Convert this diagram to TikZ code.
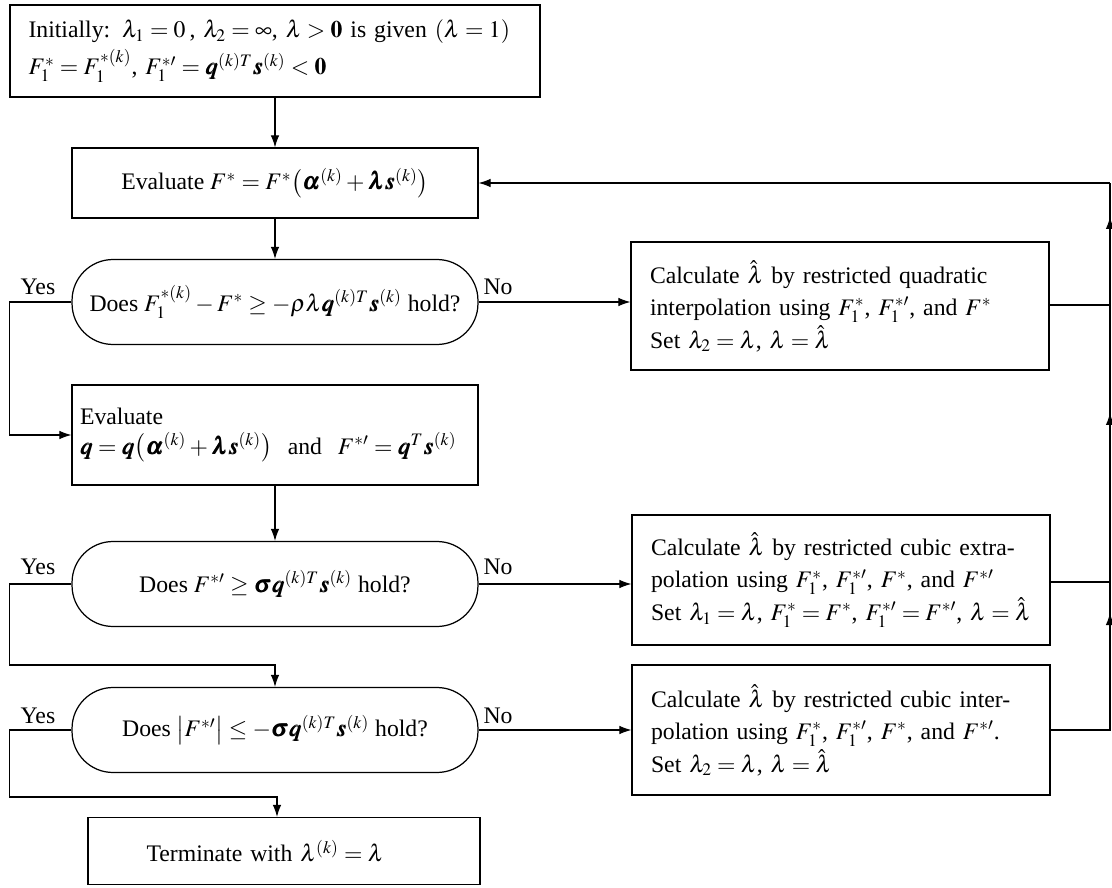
\documentclass[tikz,border=0pt]{standalone}
\usepackage{amsmath}
\usepackage{mathptmx}
\usepackage{fontspec}
\setmainfont{Liberation Serif}
\usepackage{bm}
\usetikzlibrary{arrows.meta,calc}

\begin{document}
\begin{tikzpicture}[x=0.02cm,y=-0.02cm,
  every node/.style={font=\fontsize{13.5}{17}\selectfont},
  box/.style={draw,line width=0.7pt},
  decide/.style={draw,line width=0.7pt,rounded corners=0.82cm,minimum width=8.12cm,minimum height=1.7cm,inner xsep=2pt},
  calcbox/.style={box,minimum width=8.36cm,minimum height=2.6cm,text width=7.6cm,inner xsep=0.38cm,align=left,font=\fontsize{13.5}{18.5}\selectfont},
  arr/.style={line width=0.6pt,-{Latex[length=2.4mm,width=1.7mm]}},
  lab/.style={inner sep=1pt}]
\useasboundingbox (0,0) rectangle (1112,888);
% left column: the line search steps
\node[box,minimum width=10.6cm,minimum height=1.84cm,text width=9.86cm,inner xsep=0.37cm,align=left] (init) at (275,51) {Initially: $\lambda_1=0$\,, $\lambda_2=\infty$,\ $\lambda>\mathbf{0}$ is given $(\lambda=1)$\\[2pt] $F_1^{*}=F_1^{*(k)}$, $F_1^{*\prime}=\bm q^{(k)T}\bm s^{(k)}<\mathbf{0}$};
\node[box,minimum width=8.12cm,minimum height=1.4cm] (eval1) at (275,183) {Evaluate $F^{*}=F^{*}\bigl(\bm\alpha^{(k)}+\bm\lambda\bm s^{(k)}\bigr)$};
\node[decide] (dec1) at (275,302) {Does $F_1^{*(k)}-F^{*}\geq-\rho\lambda\bm q^{(k)T}\bm s^{(k)}$ hold?};
\node[box,minimum width=8.12cm,minimum height=2cm,text width=7.8cm,inner xsep=0.16cm,align=left] (eval2) at (275,435) {Evaluate\\ $\bm q=\bm q\bigl(\bm\alpha^{(k)}+\bm\lambda\bm s^{(k)}\bigr)$\ \ and\ \ $F^{*\prime}=\bm q^{T}\bm s^{(k)}$};
\node[decide] (dec2) at (275,584) {\raisebox{-9pt}{Does $F^{*\prime}\geq\bm\sigma\bm q^{(k)T}\bm s^{(k)}$ hold?}};
\node[decide] (dec3) at (275,730) {Does $\bigl|F^{*\prime}\bigr|\leq-\bm\sigma\bm q^{(k)T}\bm s^{(k)}$ hold?};
\node[box,minimum width=7.84cm,minimum height=1.34cm,text width=5.5cm,inner xsep=1.17cm,align=left] (term) at (284,851) {Terminate with $\lambda^{(k)}=\lambda$};
% right column: new step length
\node[calcbox,minimum height=2.56cm] (calc1) at (840,306) {Calculate $\hat\lambda$ by restricted quadratic\\ interpolation using $F_1^{*}$, $F_1^{*\prime}$, and $F^{*}$\\ Set $\lambda_2=\lambda$, $\lambda=\hat\lambda$};
\node[calcbox] (calc2) at (841,580) {Calculate $\hat\lambda$ by restricted cubic extra-\\ polation using $F_1^{*}$, $F_1^{*\prime}$, $F^{*}$, and $F^{*\prime}$\\ Set $\lambda_1=\lambda$, $F_1^{*}=F^{*}$, $F_1^{*\prime}=F^{*\prime}$, $\lambda=\hat\lambda$};
\node[calcbox] (calc3) at (841,730) {Calculate $\hat\lambda$ by restricted cubic inter-\\ polation using $F_1^{*}$, $F_1^{*\prime}$, $F^{*}$, and $F^{*\prime}$.\\ Set $\lambda_2=\lambda$, $\lambda=\hat\lambda$};
% Yes / No labels
\node[lab] (yes1) at (38,287) {Yes};
\node[lab] (no1) at (498,287) {No};
\node[lab] (yes2) at (38,567) {Yes};
\node[lab] (no2) at (498,567) {No};
\node[lab] (yes3) at (38,716) {Yes};
\node[lab] (no3) at (498,716) {No};
% junctions
\coordinate (j2) at (275,665);
\coordinate (j3) at (277,797);
\coordinate (r0) at (1110,183);
\coordinate (r1) at (1110,305);
\coordinate (r2) at (1110,582);
\coordinate (r3) at (1110,730);
% connectors
\draw[arr] (init) -- (eval1);
\draw[arr] (eval1) -- (dec1);
\draw[arr] (dec1.west) -- ++(-62,0) |- (eval2.west);
\draw[arr] (dec1.east) -- (dec1.east -| calc1.west);
\draw[arr] (eval2) -- (dec2);
\draw[arr] (dec2.west) -- ++(-62,0) |- (j2) -- (dec3.north);
\draw[arr] (dec2.east) -- (dec2.east -| calc2.west);
\draw[arr] (dec3.west) -- ++(-62,0) |- (j3) -- (j3 |- term.north);
\draw[arr] (dec3.east) -- (dec3.east -| calc3.west);
\draw[line width=0.6pt] (calc1.east |- r1) -- (r1);
\draw[line width=0.6pt] (calc2.east |- r2) -- (r2);
\draw[line width=0.6pt] (calc3.east |- r3) -- (r3) -- (r0);
\foreach \a/\b in {r3/613,r2/413,r1/217} \draw[arr] (\a) -- (1110,\b);
\draw[arr] (r0) -- (r0 -| eval1.east);
\end{tikzpicture}
\end{document}
